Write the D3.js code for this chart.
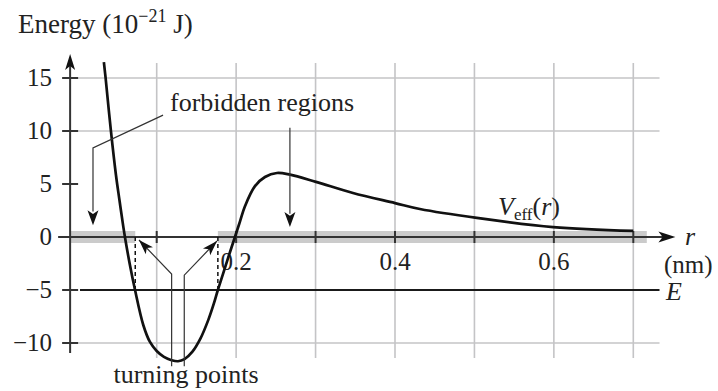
<!DOCTYPE html>
<html>
<head>
<meta charset="utf-8">
<script src="https://cdn.jsdelivr.net/npm/d3@7"></script>
<style>
  html, body { margin: 0; padding: 0; background: #fff; }
  svg { display: block; }
  text { font-family: "Liberation Serif", "Times New Roman", serif; fill: #222; }
</style>
</head>
<body>
<svg id="chart" width="718" height="391"></svg>
<script>
// Effective potential V_eff(r) in units of 1e-21 J, r in nm
const rValues = [0.0335, 0.0357, 0.0424, 0.0487, 0.0531, 0.0579, 0.060, 0.0663, 0.0726, 0.0831,
  0.0915, 0.100, 0.1091, 0.1188, 0.1268, 0.135, 0.145, 0.155, 0.165, 0.172, 0.177,
  0.183, 0.190, 0.1985, 0.205, 0.2111, 0.2237, 0.2363, 0.2514, 0.2678, 0.3005, 0.3471,
  0.400, 0.4313, 0.503, 0.599, 0.700];
const vValues = [16.5, 14.98, 9.98, 5.85, 3.49, 1.0, 0.0, -2.64, -4.96, -8.3,
  -9.9, -10.75, -11.3, -11.62, -11.72, -11.52, -10.82, -9.59, -7.82, -6.27, -5.0,
  -3.6, -1.95, 0.0, 1.5, 2.9, 4.8, 5.66, 6.04, 5.88, 5.2, 4.15,
  3.2, 2.64, 1.8, 0.94, 0.57];

const energyE = -5;                    // total energy E
const turningPoints = [0.073, 0.177];  // where V_eff(r) = E
const yTicks = [15, 10, 5, 0, -5, -10];
const yTickLabels = ["15", "10", "5", "0", "\u22125", "\u221210"];
const yGridValues = [15, 10, -10];
const xTicks = [0.1, 0.2, 0.3, 0.4, 0.5, 0.6, 0.7];
const xTickLabels = ["", "0.2", "", "0.4", "", "0.6", ""];
const axisR = -0.009;                  // r position of the vertical energy axis
const bandEnd = 0.717;                 // right end of the forbidden band

const svg = d3.select("#chart");
const x = d3.scaleLinear().domain([0.1, 0.7]).range([156.7, 633.3]);
const y = d3.scaleLinear().domain([-10, 15]).range([343, 78]);

const gridColor = "#c4c4c6";
const axisColor = "#333";

// filled arrowhead with a small notch, pointing along angle (radians)
function arrowHead(g, tx, ty, angle, len, half, fill) {
  const c = Math.cos(angle), s = Math.sin(angle);
  const bx = tx - c * len, by = ty - s * len;
  const nx = tx - c * len * 0.75, ny = ty - s * len * 0.75;
  const p = [[tx, ty], [bx - s * half, by + c * half], [nx, ny], [bx + s * half, by - c * half]];
  g.append("path").attr("d", "M" + p.map(d => d.join(",")).join("L") + "Z").attr("fill", fill);
}

// grid
const grid = svg.append("g");
grid.selectAll("line.v").data(xTicks).join("line")
  .attr("x1", d => x(d)).attr("x2", d => x(d))
  .attr("y1", y(15) - 15).attr("y2", y(-10) + 15)
  .attr("stroke", gridColor).attr("stroke-width", 1.6);
grid.selectAll("line.h").data(yGridValues).join("line")
  .attr("x1", x(axisR)).attr("x2", x(0.733))
  .attr("y1", d => y(d)).attr("y2", d => y(d))
  .attr("stroke", gridColor).attr("stroke-width", 1.6);

// forbidden regions band along V = 0
const forbidden = [[axisR, turningPoints[0]], [turningPoints[1], bandEnd]];
svg.append("g").selectAll("rect").data(forbidden).join("rect")
  .attr("x", d => x(d[0])).attr("width", d => x(d[1]) - x(d[0]))
  .attr("y", y(0) - 6).attr("height", 12)
  .attr("fill", "#cbcbcb");

// axes
const axes = svg.append("g");
axes.append("line").attr("x1", x(axisR)).attr("x2", x(axisR))
  .attr("y1", y(-10) + 10).attr("y2", y(15) - 12)
  .attr("stroke", axisColor).attr("stroke-width", 2);
arrowHead(axes, x(axisR), y(15) - 24, -Math.PI / 2, 16, 5, "#111");
axes.append("line").attr("x1", x(axisR) - 12).attr("x2", x(0.74))
  .attr("y1", y(0)).attr("y2", y(0))
  .attr("stroke", axisColor).attr("stroke-width", 2);
arrowHead(axes, x(0.753), y(0), 0, 17, 5.5, "#111");

// tick marks
axes.selectAll("line.yt").data(yTicks).join("line")
  .attr("x1", x(axisR) - 8).attr("x2", x(axisR) + 8)
  .attr("y1", d => y(d)).attr("y2", d => y(d))
  .attr("stroke", axisColor).attr("stroke-width", 2);
axes.selectAll("line.xt").data(xTicks).join("line")
  .attr("x1", d => x(d)).attr("x2", d => x(d))
  .attr("y1", y(0) - 6).attr("y2", y(0) + 6)
  .attr("stroke", axisColor).attr("stroke-width", 2);

// tick labels
axes.selectAll("text.yl").data(yTicks).join("text")
  .attr("x", 52).attr("y", d => y(d) + 8)
  .attr("text-anchor", "end").attr("font-size", 25)
  .text((d, i) => yTickLabels[i]);
axes.selectAll("text.xl").data(xTicks).join("text")
  .attr("x", d => x(d)).attr("y", 270)
  .attr("text-anchor", "middle").attr("font-size", 25)
  .text((d, i) => xTickLabels[i]);

// energy level E
svg.append("line").attr("x1", 80).attr("x2", x(0.733))
  .attr("y1", y(energyE)).attr("y2", y(energyE))
  .attr("stroke", "#1a1a1a").attr("stroke-width", 2);

// dashed verticals at the turning points
svg.selectAll("line.tp").data(turningPoints).join("line")
  .attr("x1", d => x(d)).attr("x2", d => x(d))
  .attr("y1", y(0)).attr("y2", y(energyE))
  .attr("stroke", "#111").attr("stroke-width", 1.5).attr("stroke-dasharray", "4,3");

// potential curve
const pts = rValues.map((r, i) => [r, vValues[i]]);
svg.append("path").datum(pts)
  .attr("d", d3.line().x(d => x(d[0])).y(d => y(d[1])).curve(d3.curveCatmullRom.alpha(0.5)))
  .attr("fill", "none").attr("stroke", "#111").attr("stroke-width", 2.7);

// annotations
const ann = svg.append("g");
const thin = "#333";
// forbidden regions callouts
const fLeft = [[0.108, 11.5], [0.0198, 8.4], [0.0198, 2.4]];
ann.append("path").datum(fLeft)
  .attr("d", d3.line().x(d => x(d[0])).y(d => y(d[1])))
  .attr("fill", "none").attr("stroke", thin).attr("stroke-width", 1.2);
arrowHead(ann, x(0.0198), y(1.1), Math.PI / 2, 15, 5.5, "#111");
ann.append("line").attr("x1", x(0.2677)).attr("x2", x(0.2677))
  .attr("y1", y(10.3)).attr("y2", y(2.2))
  .attr("stroke", thin).attr("stroke-width", 1.2);
arrowHead(ann, x(0.2677), y(0.95), Math.PI / 2, 15, 5.5, "#111");

// turning point callouts
const tLeft = [[0.1188, -12.2], [0.1188, -3.5], [0.0777, -0.28]];
const tRight = [[0.1347, -12.2], [0.1347, -3.6], [0.1759, -0.38]];
[tLeft, tRight].forEach(seg => {
  ann.append("path").datum(seg)
    .attr("d", d3.line().x(d => x(d[0])).y(d => y(d[1])))
    .attr("fill", "none").attr("stroke", thin).attr("stroke-width", 1.2);
  const a = seg[1], b = seg[2];
  const ang = Math.atan2(y(b[1]) - y(a[1]), x(b[0]) - x(a[0]));
  arrowHead(ann, x(b[0]), y(b[1]), ang, 15, 5, "#111");
});

// text labels
const title = svg.append("text").attr("x", 18).attr("y", 33).attr("font-size", 27);
title.append("tspan").text("Energy (10");
title.append("tspan").attr("font-size", 18).attr("dy", -11).text("\u221221");
title.append("tspan").attr("dy", 11).text(" J)");

svg.append("text").attr("x", 170).attr("y", 111).attr("font-size", 26).text("forbidden regions");
svg.append("text").attr("x", 186).attr("y", 383).attr("text-anchor", "middle")
  .attr("font-size", 26).text("turning points");

const vl = svg.append("text").attr("x", 498).attr("y", 215).attr("font-size", 26);
vl.append("tspan").attr("font-style", "italic").text("V");
vl.append("tspan").attr("font-size", 17).attr("dy", 5).text("eff");
vl.append("tspan").attr("dy", -5).text("(");
vl.append("tspan").attr("font-style", "italic").text("r");
vl.append("tspan").text(")");

svg.append("text").attr("x", 685).attr("y", 245).attr("font-size", 26)
  .attr("font-style", "italic").text("r");
svg.append("text").attr("x", 664).attr("y", 273).attr("font-size", 25).text("(nm)");
svg.append("text").attr("x", 666).attr("y", 300).attr("font-size", 26)
  .attr("font-style", "italic").text("E");
</script>
</body>
</html>
